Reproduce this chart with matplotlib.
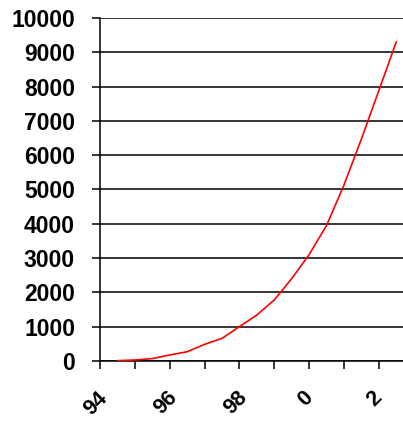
import numpy as np
import matplotlib
matplotlib.use("Agg")
import matplotlib.pyplot as plt
from matplotlib.ticker import FixedLocator, NullFormatter
from matplotlib.transforms import ScaledTranslation

# half-yearly readings
years = [1994.5, 1995.0, 1995.5, 1996.0, 1996.5, 1997.0, 1997.5, 1998.0,
         1998.5, 1999.0, 1999.5, 2000.0, 2000.5, 2001.0, 2001.5, 2002.0, 2002.5]
values = [10, 30, 70, 175, 270, 485, 660, 1000,
          1340, 1780, 2400, 3100, 3950, 5130, 6470, 7880, 9300]

tick_years = [1994, 1995, 1996, 1997, 1998, 1999, 2000, 2001, 2002]
label_years = [1994, 1996, 1998, 2000, 2002]
label_text = ["94", "96", "98", "0", "2"]
y_ticks = list(range(0, 10001, 1000))

plt.rcParams['font.family'] = ['Liberation Sans', 'DejaVu Sans']

fig = plt.figure(figsize=(4.03, 4.21), dpi=100)
ax = fig.add_axes([100/403, 60/421, 303/403, 343/421])

ax.plot(years, values, color='#ff0000', lw=1.2, zorder=3)

ax.set_xlim(1994, 1994 + 303/34.85)
ax.set_ylim(0, 10000)

ax.set_yticks(y_ticks)
ax.set_yticklabels([str(v) for v in y_ticks], fontsize=16.5, fontweight='bold')
ax.yaxis.grid(True, color='black', lw=1.1)
ax.set_axisbelow(True)

ax.xaxis.set_major_locator(FixedLocator(label_years))
ax.set_xticklabels(label_text, fontsize=15.5, fontweight='bold', rotation=45,
                   ha='center', va='top')
ax.xaxis.set_minor_locator(FixedLocator(tick_years))
ax.xaxis.set_minor_formatter(NullFormatter())

ax.tick_params(axis='y', direction='out', length=6, width=1.1, pad=12, colors='black')
ax.tick_params(axis='x', which='both', direction='out', length=6, width=1.1, pad=13)

# labels sit a little left of their ticks in the original
shift = ScaledTranslation(-4/100, 0, fig.dpi_scale_trans)
for lab in ax.get_xticklabels():
    lab.set_transform(lab.get_transform() + shift)

for side in ['top', 'right']:
    ax.spines[side].set_visible(False)
for side in ['left', 'bottom']:
    ax.spines[side].set_linewidth(1.1)
    ax.spines[side].set_color('black')

fig.savefig("out.png", dpi=100)
